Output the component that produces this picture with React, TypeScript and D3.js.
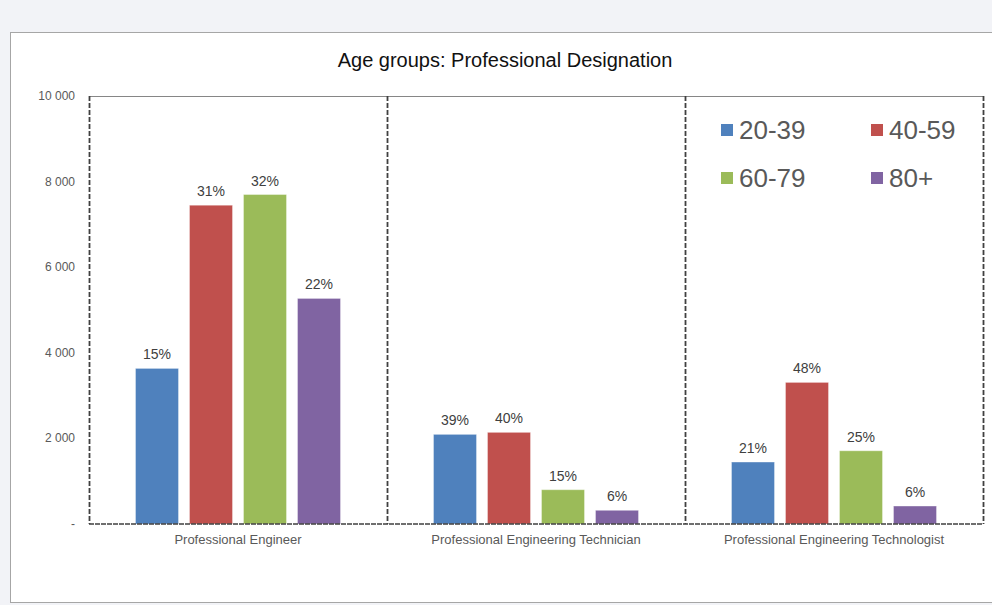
import React from "react";
import * as d3 from "d3";

const categories = ["Professional Engineer", "Professional Engineering Technician", "Professional Engineering Technologist"];
const seriesNames = ["20-39", "40-59", "60-79", "80+"];
const seriesColors = ["#4F81BD", "#C0504D", "#9BBB59", "#8064A2"];
const values = [
  [3635, 7448, 7698, 5270],
  [2094, 2141, 801, 320],
  [1448, 3308, 1711, 420],
];
const percentLabels = [
  ["15%", "31%", "32%", "22%"],
  ["39%", "40%", "15%", "6%"],
  ["21%", "48%", "25%", "6%"],
];
const yTicks = [0, 2000, 4000, 6000, 8000, 10000];
const title = "Age groups: Professional Designation";

export default function App() {
  const W = 992, H = 605;
  const left = 89, right = 983, top = 96, bottom = 524;
  const x = d3.scaleBand<string>().domain(categories).range([left, right]).padding(0);
  const y = d3.scaleLinear().domain([0, 10000]).range([bottom, top]);
  const barW = 43, step = 54;
  const fmt = (v: number) => (v === 0 ? "-" : d3.format(",")(v).replace(/,/g, " "));
  const font = "Arial, 'Liberation Sans', sans-serif";
  const dividers = [left, ...categories.map((c) => (x(c) as number) + x.bandwidth())];

  return (
    <div style={{ position: "fixed", left: 0, top: 0, width: W, height: H, background: "#f2f3f7" }}>
      <svg width={W} height={H} style={{ display: "block" }} fontFamily={font}>
        <rect x={10.5} y={32.5} width={W} height={570} fill="#fff" stroke="#a6a6a6" strokeWidth={1} />
        <text x={505} y={67} textAnchor="middle" fontSize={20} fill="#111">{title}</text>
        {/* top border */}
        <line x1={left} x2={right} y1={top + 0.5} y2={top + 0.5} stroke="#868686" strokeWidth={1} />
        {/* bars */}
        {categories.map((c, ci) => {
          const cx = (x(c) as number) + x.bandwidth() / 2;
          const start = cx - (step * 3 + barW) / 2;
          return values[ci].map((v, si) => {
            const bx = start + si * step;
            return (
              <g key={c + si}>
                <rect x={bx} y={y(v)} width={barW} height={bottom - y(v)} fill={seriesColors[si]} stroke="#ffffff" strokeOpacity={0.35} strokeWidth={1} />
                <text x={bx + barW / 2} y={y(v) - 9} textAnchor="middle" fontSize={14} fill="#404040">{percentLabels[ci][si]}</text>
              </g>
            );
          });
        })}
        {/* dividers */}
        {dividers.map((dx, i) => (
          <line key={i} x1={Math.round(dx) + 0.5} x2={Math.round(dx) + 0.5} y1={top} y2={bottom} stroke="#404040" strokeWidth={1.8} strokeDasharray="5,2" />
        ))}
        {/* baseline */}
        <line x1={left} x2={right} y1={bottom} y2={bottom} stroke="#404040" strokeWidth={1.5} strokeDasharray="5,1" />
        {/* y ticks */}
        {yTicks.map((t) => (
          <text key={t} x={75} y={y(t) + 4} textAnchor="end" fontSize={12} fill="#595959">{fmt(t)}</text>
        ))}
        {/* category labels */}
        {categories.map((c) => (
          <text key={c} x={(x(c) as number) + x.bandwidth() / 2} y={544} textAnchor="middle" fontSize={13} fill="#595959">{c}</text>
        ))}
        {/* legend */}
        {seriesNames.map((s, i) => {
          const col = i % 2, row = Math.floor(i / 2);
          const lx = 721 + col * 150, ly = 124 + row * 48;
          return (
            <g key={s}>
              <rect x={lx} y={ly} width={12} height={12} fill={seriesColors[i]} />
              <text x={lx + 18} y={ly + 15} fontSize={26} fill="#595959">{s}</text>
            </g>
          );
        })}
      </svg>
    </div>
  );
}
